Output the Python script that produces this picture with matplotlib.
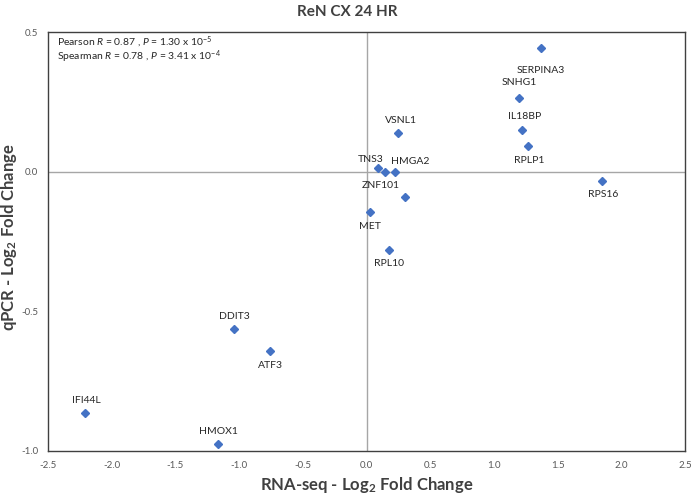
import matplotlib.pyplot as plt

plt.rcParams['font.family'] = ['Lato', 'DejaVu Sans']
plt.rcParams['mathtext.fontset'] = 'custom'
plt.rcParams['mathtext.it'] = 'Lato:italic'
plt.rcParams['mathtext.rm'] = 'Lato'
plt.rcParams['mathtext.bf'] = 'Lato:bold'

# data
genes = ["SERPINA3", "SNHG1", "IL18BP", "RPLP1", "VSNL1", "TNS3", "ZNF101", "HMGA2",
         "", "MET", "RPL10", "RPS16", "DDIT3", "ATF3", "IFI44L", "HMOX1"]
rnaseq = [1.37, 1.20, 1.22, 1.27, 0.25, 0.09, 0.145, 0.226,
          0.30, 0.027, 0.177, 1.85, -1.04, -0.755, -2.21, -1.163]
qpcr = [0.443, 0.264, 0.149, 0.093, 0.139, 0.012, 0.0, 0.0,
        -0.09, -0.145, -0.279, -0.032, -0.563, -0.643, -0.863, -0.976]
# label offsets in points (dx, dy)
offsets = [(0, -16), (0, 11), (2, 10), (1, -11), (2, 9), (-5, 6), (-3, -10), (11, 7),
           (0, 0), (0, -10), (0, -10), (1, -10), (0, 9), (0, -10), (1, 9), (0, 9)]

xticks = [-2.5, -2.0, -1.5, -1.0, -0.5, 0.0, 0.5, 1.0, 1.5, 2.0, 2.5]
yticks = [-1.0, -0.5, 0.0, 0.5]

fig = plt.figure(figsize=(6.94, 4.96), dpi=100)
ax = fig.add_axes([48 / 694, 1 - 451 / 496, (685 - 48) / 694, (451 - 32) / 496])

ax.axhline(0, color='#a6a6a6', lw=1.0, zorder=1)
ax.axvline(0, color='#a6a6a6', lw=1.0, zorder=1)

ax.plot(rnaseq, qpcr, linestyle='none', marker='D', markersize=4.5,
        color='#4472C4', zorder=3)

for g, x, y, (dx, dy) in zip(genes, rnaseq, qpcr, offsets):
    if g:
        ax.annotate(g, (x, y), xytext=(dx, dy), textcoords='offset points',
                    ha='center', va='center', fontsize=7.5, color='#262626')

ax.set_xlim(-2.5, 2.5)
ax.set_ylim(-1.0, 0.5)
ax.set_xticks(xticks)
ax.set_yticks(yticks)
ax.set_xticklabels([f"{t:.1f}" for t in xticks])
ax.set_yticklabels([f"{t:.1f}" for t in yticks])
ax.tick_params(length=0, labelsize=7, colors='#595959')
ax.tick_params(axis='x', pad=7)
ax.tick_params(axis='y', pad=7)
for s in ax.spines.values():
    s.set_color('#404040')
    s.set_linewidth(1.0)

# stats box, top-left inside the plot
ax.text(9 / 637, (451 - 42) / 419,
        "Pearson $R$ = 0.87 , $P$ = 1.30 x 10$^{-5}$",
        transform=ax.transAxes, fontsize=7.5, va='center', ha='left', color='#262626')
ax.text(9 / 637, (451 - 57) / 419,
        "Spearman $R$ = 0.78 , $P$ = 3.41 x 10$^{-4}$",
        transform=ax.transAxes, fontsize=7.5, va='center', ha='left', color='#262626')

fig.text(0.5, 1 - 12 / 496, "ReN CX 24 HR", ha='center', va='center',
         fontsize=11, fontweight='bold', color='#404040')
fig.text(367 / 694, 1 - 485 / 496, "RNA-seq - Log$_\\mathbf{2}$ Fold Change", ha='center',
         va='center', fontsize=12, fontweight='bold', color='#404040')
fig.text(9 / 694, 1 - 237 / 496, "qPCR - Log$_\\mathbf{2}$ Fold Change", ha='center',
         va='center', rotation=90, fontsize=12, fontweight='bold', color='#404040')

plt.savefig("out.png", dpi=100)
